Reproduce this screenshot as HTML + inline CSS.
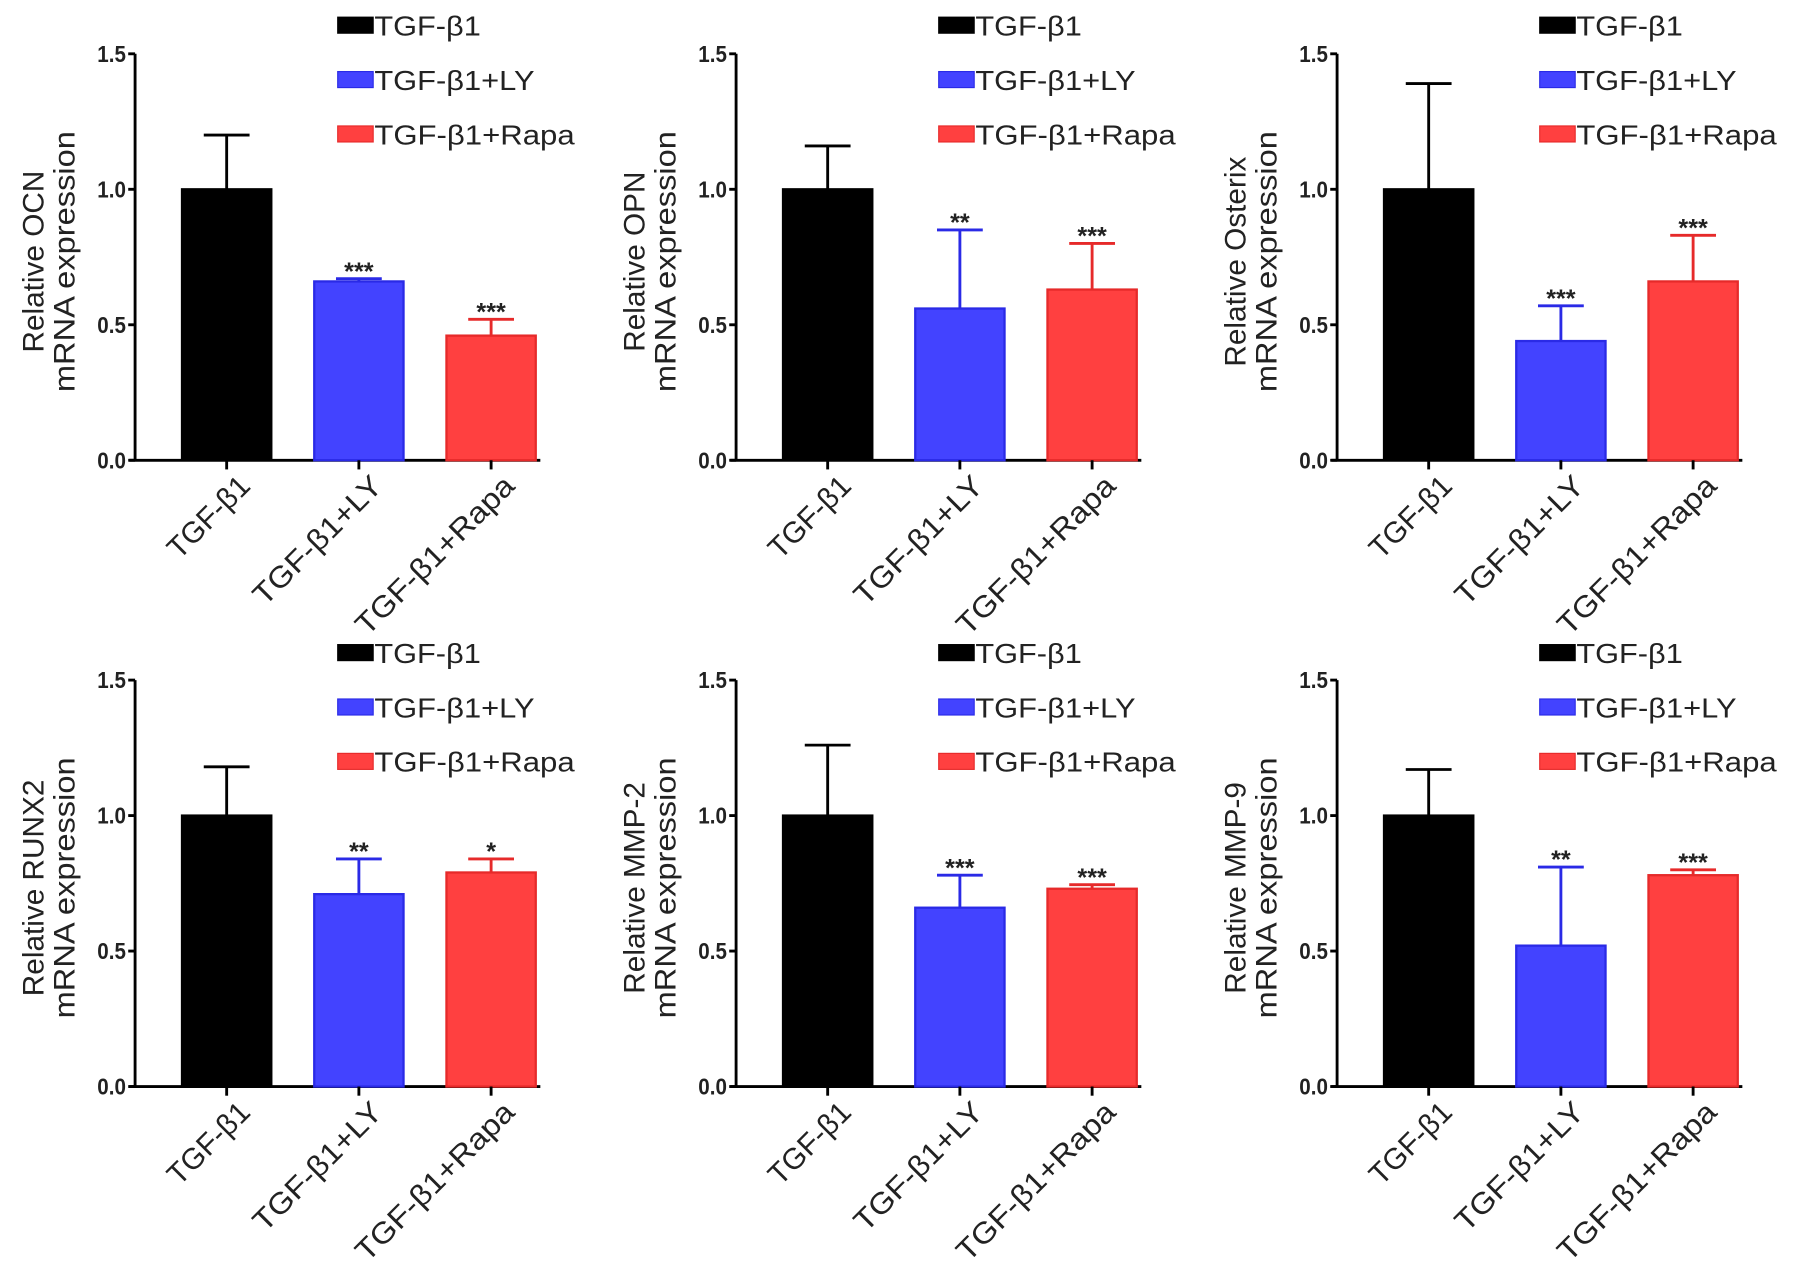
<!DOCTYPE html>
<html><head><meta charset="utf-8"><style>html,body{margin:0;padding:0;background:#fff}svg{display:block}</style></head>
<body>
<svg id="fig" width="1795" height="1264" viewBox="0 0 1568 1104" preserveAspectRatio="none" xmlns="http://www.w3.org/2000/svg" font-family="'Liberation Sans', sans-serif"></svg>
<script>
const genes = ["OCN","OPN","Osterix","RUNX2","MMP-2","MMP-9"];
const groups = ["TGF-β1","TGF-β1+LY","TGF-β1+Rapa"];
const meansOCN = [1.0,0.66,0.46];
const errTopOCN = [1.2,0.67,0.52];
const meansOPN = [1.0,0.56,0.63];
const errTopOPN = [1.16,0.85,0.80];
const meansOsterix = [1.0,0.44,0.66];
const errTopOsterix = [1.39,0.57,0.83];
const meansRUNX2 = [1.0,0.71,0.79];
const errTopRUNX2 = [1.18,0.84,0.84];
const meansMMP2 = [1.0,0.66,0.73];
const errTopMMP2 = [1.26,0.78,0.745];
const meansMMP9 = [1.0,0.52,0.78];
const errTopMMP9 = [1.17,0.81,0.80];
const starsOCN = ["","***","***"];
const starsOPN = ["","**","***"];
const starsOsterix = ["","***","***"];
const starsRUNX2 = ["","**","*"];
const starsMMP2 = ["","***","***"];
const starsMMP9 = ["","**","***"];
const yTicks = [0,0.5,1.0,1.5];
const yTickLabels = ["0.0","0.5","1.0","1.5"];

const means=[meansOCN,meansOPN,meansOsterix,meansRUNX2,meansMMP2,meansMMP9];
const errs=[errTopOCN,errTopOPN,errTopOsterix,errTopRUNX2,errTopMMP2,errTopMMP9];
const stars=[starsOCN,starsOPN,starsOsterix,starsRUNX2,starsMMP2,starsMMP9];
const fills=["#000","#4343ff","#ff4040"], strokes=["#000","#2a2ae6","#e62a2a"];
const xLabLen=[78,128,160];
const NS="http://www.w3.org/2000/svg", svg=document.getElementById("fig");
function mk(tag,attrs,parent,text){const e=document.createElementNS(NS,tag);for(const k in attrs)e.setAttribute(k,attrs[k]);if(text!==undefined)e.textContent=text;parent.appendChild(e);return e;}

for(let p=0;p<6;p++){
  const col=p%3,row=Math.floor(p/3);
  const ox=118+col*525, y0=402+row*547, yTop=47+row*547;
  const ys=v=>y0-(y0-yTop)*v/1.5;
  const xc=i=>ox+80+i*115.5;
  const g=mk("g",{},svg);
  
  
  const ya=mk("line",{x1:ox,y1:yTop,x2:ox,y2:y0,stroke:"#000","stroke-width":2.5},g);
  
  
  const xa=mk("line",{x1:ox-5,y1:y0,x2:ox+354,y2:y0,stroke:"#000","stroke-width":2.5},g);
  
  
  yTicks.forEach((t,i)=>{
    mk("line",{x1:ox-6,y1:ys(t),x2:ox,y2:ys(t),stroke:"#000","stroke-width":2.5},g);
    const tl=mk("text",{x:ox-8,y:ys(t)+7,"text-anchor":"end","font-size":20,"font-weight":"bold",fill:"#222",textLength:25,lengthAdjust:"spacingAndGlyphs"},g,yTickLabels[i]);
    
    
  });
  const cy=(y0+yTop)/2+4;
  const t1=mk("text",{x:0,y:0,"text-anchor":"middle","font-size":26,fill:"#222",transform:`translate(${ox-80},${cy}) rotate(-90)`},g,"Relative "+genes[p]);
  
  
  const t2=mk("text",{x:0,y:0,"text-anchor":"middle","font-size":26,fill:"#222",textLength:228,lengthAdjust:"spacingAndGlyphs",transform:`translate(${ox-53},${cy}) rotate(-90)`},g,"mRNA expression");
  
  
  for(let i=0;i<3;i++){
    const x=xc(i), m=means[p][i], e=errs[p][i];
    const eb=mk("line",{x1:x,y1:ys(m),x2:x,y2:ys(e),stroke:strokes[i],"stroke-width":2.5},g);
    
    
    mk("line",{x1:x-20,y1:ys(e),x2:x+20,y2:ys(e),stroke:strokes[i],"stroke-width":2.5},g);
    const b=mk("rect",{x:x-39,y:ys(m),width:78,height:y0-ys(m),fill:fills[i],stroke:strokes[i],"stroke-width":2},g);
    
    
    mk("line",{x1:x,y1:y0,x2:x,y2:y0+8,stroke:"#000","stroke-width":2.5},g);
    if(stars[p][i]){
      const s=mk("text",{x:x,y:ys(e)+1,"text-anchor":"middle","font-size":22,"font-weight":"bold",fill:"#222"},g,stars[p][i]);
      
      
    }
    const xl=mk("text",{x:0,y:0,"text-anchor":"end","font-size":26,fill:"#222",textLength:xLabLen[i]*1.15,lengthAdjust:"spacingAndGlyphs",transform:`translate(${x+22},${y0+24}) rotate(-45)`},g,groups[i]);
    
    
    const ly=22+row*548+i*47.5;
    const lg=mk("g",{},g);
    
    
    mk("rect",{x:ox+177,y:ly-7,width:31,height:14,fill:fills[i],stroke:strokes[i],"stroke-width":1},lg);
    mk("text",{x:ox+209,y:ly+9,"font-size":24,fill:"#222",textLength:[93,140,175][i],lengthAdjust:"spacingAndGlyphs"},lg,groups[i]);
  }
}
</script>
</body></html>
